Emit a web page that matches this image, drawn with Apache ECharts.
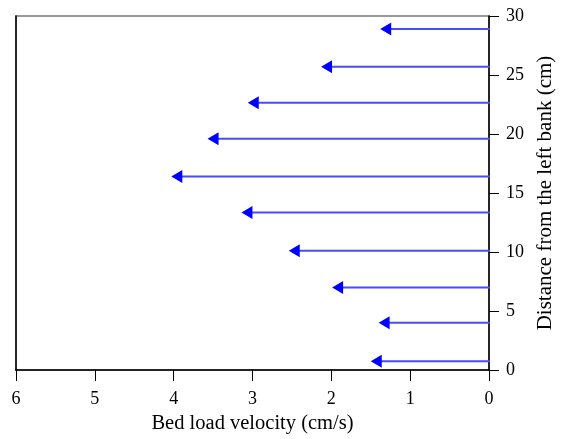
<!DOCTYPE html>
<html>
<head>
<meta charset="utf-8">
<script src="https://cdn.jsdelivr.net/npm/echarts@6/dist/echarts.min.js"></script>
<style>html,body{margin:0;padding:0;background:#fff}#c{width:562px;height:439px}</style>
</head>
<body>
<div id="c"></div>
<script>
const distances = [28.9, 25.7, 22.65, 19.6, 16.4, 13.35, 10.1, 7.0, 4.0, 0.75];
const velocities = [1.38, 2.13, 3.06, 3.57, 4.03, 3.14, 2.54, 1.99, 1.40, 1.50];
const xTicks = [0, 1, 2, 3, 4, 5, 6];
const yTicks = [0, 5, 10, 15, 20, 25, 30];

const chart = echarts.init(document.getElementById('c'), null, {renderer: 'canvas'});
const font = '"Liberation Serif", "Times New Roman", serif';
const data = velocities.map((v, i) => [v, distances[i]]);

chart.setOption({
  animation: false,
  grid: {left: 16, right: 73, top: 16, bottom: 69, show: true, borderColor: '#777', borderWidth: 1.5,
         containLabel: false, outerBoundsMode: 'none'},
  xAxis: {
    type: 'value', inverse: true, min: xTicks[0], max: xTicks[xTicks.length - 1], interval: 1,
    position: 'bottom',
    name: 'Bed load velocity (cm/s)', nameLocation: 'middle', nameGap: 41,
    nameTextStyle: {fontFamily: font, fontSize: 20.5, color: '#000'},
    axisLine: {lineStyle: {color: '#000', width: 1.5}},
    axisTick: {show: true, length: 11, lineStyle: {color: '#000', width: 1}},
    axisLabel: {fontFamily: font, fontSize: 18, color: '#000', margin: 20},
    splitLine: {show: false}
  },
  yAxis: [{
    type: 'value', min: yTicks[0], max: yTicks[yTicks.length - 1], interval: 5,
    position: 'right',
    name: 'Distance from the left bank (cm)', nameLocation: 'middle', nameGap: 46, nameRotate: 90,
    nameTextStyle: {fontFamily: font, fontSize: 21, color: '#000'},
    axisLine: {show: true, onZero: false, lineStyle: {color: '#000', width: 1.5}},
    axisTick: {show: true, length: 10, lineStyle: {color: '#000', width: 1}},
    axisLabel: {fontFamily: font, fontSize: 18, color: '#000', margin: 17},
    splitLine: {show: false}
  }, {
    type: 'value', min: yTicks[0], max: yTicks[yTicks.length - 1], interval: 5,
    position: 'left',
    axisLine: {show: true, onZero: false, lineStyle: {color: '#000', width: 1.5}},
    axisTick: {show: false}, axisLabel: {show: false}, splitLine: {show: false}
  }],
  series: [{
    type: 'custom',
    data: data,
    clip: false,
    renderItem: function (params, api) {
      const v = api.value(0), d = api.value(1);
      const p0 = api.coord([0, d]);
      const p1 = api.coord([v, d]);
      const head = 11, half = 6.5;
      return {
        type: 'group',
        children: [
          {type: 'line', shape: {x1: p0[0] + 1, y1: p0[1], x2: p1[0] + head - 1, y2: p1[1]},
           style: {stroke: '#4a4aff', lineWidth: 2}},
          {type: 'polygon', shape: {points: [[p1[0], p1[1]], [p1[0] + head, p1[1] - half], [p1[0] + head, p1[1] + half]]},
           style: {fill: '#0000ff'}}
        ]
      };
    }
  }]
});
</script>
</body>
</html>
